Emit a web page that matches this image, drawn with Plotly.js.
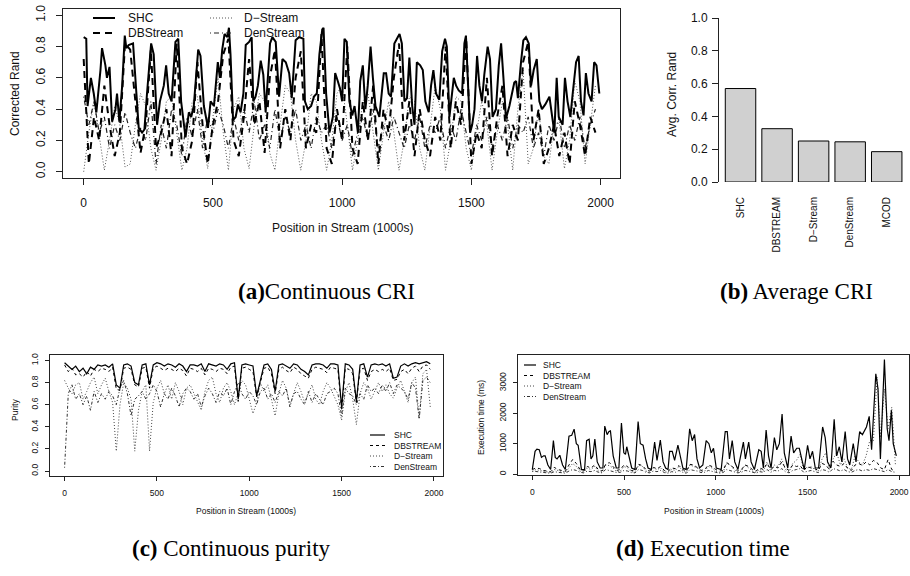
<!DOCTYPE html>
<html>
<head>
<meta charset="utf-8">
<script src="https://cdn.plot.ly/plotly-3.0.1.min.js"></script>
<style>
  html, body { margin: 0; padding: 0; background: #fff; }
  #chart { width: 910px; height: 576px; }
</style>
</head>
<body>
<div id="chart"></div>
<script>
// ---------- (a) Continuous corrected Rand index ----------
const criShcX = [0,10,15,28,39,49,65,71,84,90,100,110,123,129,138,149,159,165,174,191,204,213,226,235,245,261,271,284,295,310,319,329,340,355,366,377,394,407,416,426,443,452,465,481,491,504,519,527,536,545,556,562,568,578,588,597,607,618,627,640,650,656,665,674,685,695,704,721,730,743,756,769,782,795,805,820,833,850,856,867,880,891,902,912,923,928,938,951,964,973,983,992,1000,1009,1018,1028,1039,1048,1061,1070,1080,1090,1099,1110,1119,1129,1144,1161,1170,1180,1189,1202,1215,1222,1231,1241,1251,1260,1271,1280,1289,1302,1312,1322,1335,1344,1353,1363,1376,1387,1398,1405,1415,1425,1432,1441,1451,1464,1473,1479,1486,1495,1503,1512,1522,1531,1541,1550,1563,1572,1582,1595,1606,1615,1624,1634,1647,1657,1666,1673,1680,1692,1701,1711,1722,1731,1741,1753,1763,1773,1786,1802,1814,1821,1830,1838,1853,1862,1872,1883,1892,1905,1915,1924,1934,1943,1953,1965,1975,1984,1995];
const criShcY = [0.86,0.85,0.42,0.60,0.50,0.38,0.65,0.79,0.68,0.60,0.67,0.32,0.40,0.50,0.32,0.55,0.87,0.79,0.81,0.82,0.50,0.28,0.25,0.27,0.50,0.82,0.75,0.30,0.45,0.55,0.68,0.50,0.45,0.83,0.85,0.45,0.22,0.38,0.35,0.42,0.78,0.74,0.42,0.28,0.45,0.42,0.70,0.60,0.78,0.88,0.86,0.92,0.75,0.33,0.35,0.43,0.38,0.50,0.81,0.83,0.86,0.45,0.48,0.55,0.71,0.62,0.38,0.82,0.86,0.83,0.48,0.72,0.70,0.63,0.47,0.84,0.86,0.85,0.45,0.40,0.42,0.48,0.50,0.75,0.91,0.92,0.50,0.25,0.35,0.63,0.58,0.53,0.45,0.85,0.83,0.45,0.36,0.42,0.25,0.58,0.68,0.40,0.55,0.80,0.60,0.42,0.35,0.63,0.63,0.50,0.48,0.82,0.86,0.88,0.82,0.45,0.47,0.73,0.42,0.30,0.70,0.68,0.65,0.45,0.38,0.55,0.65,0.50,0.46,0.77,0.85,0.80,0.35,0.50,0.60,0.55,0.52,0.50,0.82,0.87,0.60,0.25,0.30,0.40,0.74,0.55,0.45,0.62,0.80,0.72,0.35,0.40,0.68,0.82,0.60,0.34,0.42,0.50,0.57,0.58,0.47,0.70,0.84,0.86,0.82,0.55,0.65,0.72,0.45,0.40,0.43,0.48,0.35,0.25,0.60,0.35,0.30,0.60,0.45,0.35,0.50,0.70,0.74,0.45,0.36,0.63,0.50,0.45,0.70,0.68,0.50];

// remaining series are sampled every 20 (thousand) stream positions, 0..1980
const criDbstream = [0.72,0.05,0.35,0.20,0.55,0.30,0.10,0.25,0.82,0.78,0.45,0.12,0.30,0.78,0.15,0.25,0.40,0.10,0.82,0.15,0.05,0.20,0.70,0.30,0.05,0.30,0.45,0.75,0.85,0.20,0.10,0.35,0.72,0.30,0.45,0.12,0.60,0.78,0.15,0.40,0.20,0.60,0.77,0.15,0.30,0.25,0.88,0.15,0.05,0.40,0.20,0.80,0.15,0.05,0.45,0.20,0.55,0.05,0.40,0.25,0.60,0.82,0.20,0.45,0.10,0.40,0.20,0.10,0.35,0.20,0.80,0.15,0.45,0.30,0.85,0.05,0.25,0.15,0.60,0.10,0.35,0.55,0.10,0.30,0.20,0.70,0.83,0.20,0.40,0.05,0.15,0.30,0.10,0.25,0.05,0.45,0.30,0.10,0.35,0.25];
const criDstream = [0.00,0.25,0.45,0.22,0.01,0.20,0.42,0.30,0.03,0.05,0.30,0.50,0.42,0.15,0.01,0.20,0.45,0.48,0.25,0.01,0.15,0.45,0.48,0.20,0.02,0.35,0.60,0.25,0.01,0.40,0.48,0.15,0.02,0.30,0.50,0.45,0.12,0.01,0.30,0.55,0.50,0.20,0.01,0.20,0.50,0.45,0.20,0.01,0.20,0.50,0.55,0.30,0.01,0.20,0.45,0.50,0.25,0.01,0.25,0.45,0.25,0.01,0.20,0.48,0.45,0.15,0.01,0.30,0.55,0.40,0.01,0.20,0.48,0.45,0.15,0.01,0.25,0.45,0.30,0.01,0.25,0.45,0.30,0.01,0.40,0.65,0.05,0.15,0.40,0.10,0.05,0.30,0.32,0.02,0.20,0.58,0.45,0.05,0.30,0.55];
const criDenstream = [0.48,0.30,0.45,0.25,0.35,0.15,0.30,0.20,0.38,0.25,0.15,0.28,0.20,0.45,0.05,0.30,0.15,0.40,0.30,0.10,0.35,0.22,0.40,0.15,0.35,0.25,0.40,0.30,0.15,0.35,0.20,0.40,0.25,0.45,0.20,0.30,0.15,0.40,0.20,0.35,0.25,0.40,0.20,0.30,0.15,0.35,0.25,0.30,0.15,0.35,0.20,0.30,0.10,0.25,0.35,0.20,0.40,0.15,0.30,0.20,0.35,0.25,0.15,0.30,0.20,0.35,0.15,0.30,0.25,0.35,0.15,0.30,0.20,0.40,0.25,0.10,0.30,0.20,0.35,0.15,0.30,0.20,0.35,0.15,0.30,0.25,0.35,0.15,0.25,0.10,0.30,0.20,0.35,0.15,0.30,0.20,0.35,0.15,0.30,0.40];

// ---------- (b) Average corrected Rand index ----------
const methodNames = ["SHC", "DBSTREAM", "D\u2212Stream", "DenStream", "MCOD"];
const avgCri = [0.57, 0.325, 0.25, 0.245, 0.185];

// ---------- (c) Continuous purity ----------
const purShc = [0.98,0.95,0.92,0.95,0.90,0.93,0.88,0.94,0.92,0.96,0.95,0.96,0.94,0.97,0.78,0.75,0.96,0.97,0.95,0.80,0.78,0.96,0.97,0.78,0.96,0.98,0.97,0.95,0.97,0.96,0.94,0.97,0.95,0.90,0.96,0.96,0.95,0.97,0.90,0.97,0.96,0.95,0.97,0.96,0.92,0.97,0.98,0.65,0.96,0.97,0.96,0.95,0.68,0.82,0.96,0.97,0.92,0.72,0.96,0.97,0.95,0.93,0.97,0.96,0.92,0.90,0.87,0.96,0.97,0.97,0.96,0.93,0.97,0.97,0.96,0.58,0.97,0.96,0.92,0.63,0.96,0.97,0.85,0.96,0.97,0.96,0.97,0.95,0.97,0.84,0.85,0.95,0.97,0.95,0.97,0.98,0.97,0.98,0.99,0.97];
const purDbstream = [0.96,0.90,0.93,0.87,0.88,0.85,0.90,0.86,0.92,0.90,0.93,0.92,0.90,0.94,0.74,0.73,0.93,0.94,0.92,0.78,0.76,0.93,0.94,0.75,0.93,0.95,0.93,0.91,0.93,0.92,0.90,0.93,0.91,0.86,0.93,0.92,0.90,0.93,0.87,0.93,0.92,0.90,0.93,0.92,0.88,0.94,0.95,0.63,0.93,0.94,0.92,0.90,0.67,0.80,0.93,0.94,0.88,0.70,0.92,0.94,0.91,0.89,0.94,0.92,0.88,0.86,0.84,0.92,0.94,0.93,0.92,0.89,0.94,0.93,0.92,0.55,0.93,0.92,0.88,0.62,0.92,0.93,0.82,0.90,0.92,0.90,0.92,0.90,0.93,0.82,0.83,0.90,0.92,0.88,0.93,0.95,0.90,0.95,0.96,0.92];
const purDstream = [0.82,0.75,0.70,0.78,0.80,0.65,0.72,0.80,0.85,0.70,0.78,0.84,0.72,0.62,0.18,0.60,0.80,0.75,0.65,0.18,0.55,0.72,0.78,0.18,0.62,0.75,0.82,0.70,0.78,0.65,0.80,0.72,0.60,0.75,0.78,0.70,0.62,0.55,0.72,0.82,0.85,0.70,0.62,0.75,0.80,0.72,0.60,0.70,0.82,0.78,0.65,0.52,0.62,0.80,0.72,0.78,0.65,0.50,0.70,0.82,0.75,0.60,0.70,0.80,0.72,0.62,0.70,0.78,0.65,0.60,0.72,0.80,0.75,0.68,0.60,0.46,0.72,0.80,0.65,0.42,0.70,0.80,0.75,0.65,0.72,0.80,0.72,0.78,0.70,0.66,0.75,0.82,0.72,0.62,0.80,0.85,0.48,0.88,0.92,0.58];
const purDenstream = [0.03,0.70,0.78,0.65,0.70,0.60,0.68,0.55,0.72,0.62,0.70,0.65,0.72,0.68,0.60,0.75,0.82,0.70,0.50,0.65,0.68,0.72,0.65,0.70,0.78,0.72,0.58,0.70,0.65,0.75,0.68,0.58,0.70,0.75,0.72,0.65,0.70,0.58,0.68,0.75,0.70,0.62,0.72,0.68,0.75,0.60,0.72,0.80,0.70,0.65,0.72,0.68,0.60,0.72,0.75,0.65,0.70,0.62,0.72,0.68,0.75,0.58,0.70,0.72,0.65,0.60,0.72,0.62,0.70,0.65,0.60,0.70,0.72,0.75,0.70,0.50,0.75,0.70,0.68,0.60,0.70,0.65,0.78,0.72,0.75,0.70,0.78,0.72,0.80,0.70,0.78,0.75,0.72,0.65,0.80,0.75,0.47,0.82,0.85,0.80];

// ---------- (d) Execution time (ms) ----------
const timeShcX = [0,15,25,38,50,62,70,85,100,115,125,135,150,165,180,200,215,228,240,250,268,285,296,310,320,330,341,354,370,385,395,408,418,426,441,458,472,486,499,508,515,528,542,560,577,589,604,618,631,649,667,680,698,713,727,740,749,763,776,794,807,821,839,858,872,885,898,912,930,948,963,976,988,1003,1030,1052,1063,1075,1090,1104,1121,1151,1162,1180,1193,1211,1235,1248,1260,1275,1288,1302,1320,1333,1347,1362,1374,1393,1411,1425,1442,1456,1469,1483,1501,1514,1528,1543,1561,1583,1597,1610,1628,1646,1659,1674,1688,1706,1719,1731,1750,1765,1785,1800,1822,1837,1850,1873,1885,1898,1920,1935,1945,1958,1968,1985];
const timeShcY = [150,750,820,800,550,600,600,300,150,1100,550,500,620,300,150,1250,1280,1480,1000,950,150,150,1100,1150,500,600,1150,400,200,200,1580,1300,1400,1420,600,200,200,1680,700,650,900,600,200,150,1730,1000,950,500,200,150,1050,450,1120,400,200,150,750,750,450,950,600,200,150,1490,1100,1300,500,200,300,1100,1000,700,850,200,150,1400,1400,500,1100,400,150,1050,500,1050,400,150,800,750,200,1450,600,200,1200,800,1000,1980,700,200,1250,700,850,850,500,150,950,500,750,200,200,1550,1200,400,200,1800,600,900,400,1400,500,300,1000,400,1400,1300,1550,1900,800,3300,2800,500,3770,1500,1100,2100,1000,600];
const timeDbstream = [150,200,180,120,100,80,220,150,120,90,300,480,350,150,100,250,200,300,150,100,320,380,250,120,150,300,250,120,100,320,280,150,100,220,180,250,120,90,200,180,280,150,100,320,300,220,120,150,300,250,150,100,120,380,300,200,100,150,300,250,150,100,200,150,350,150,250,200,400,200,120,300,250,280,120,250,200,180,120,350,300,150,420,300,250,350,180,120,300,350,280,400,300,450,380,200,150,480,150,100];
const timeDstream = [80,150,120,100,60,50,150,120,80,60,200,350,250,100,60,200,150,250,100,60,300,280,200,80,100,250,200,80,60,300,250,100,60,200,150,200,80,60,150,120,250,100,60,300,250,200,80,100,250,200,100,60,80,350,300,150,60,100,300,200,100,60,150,100,400,100,300,250,500,150,80,350,450,650,150,200,250,150,100,500,700,150,500,700,300,500,200,150,600,400,300,600,1100,1100,3200,1200,2800,1500,2200,300];
const timeDenstream = [100,80,60,50,40,30,80,60,40,30,100,150,120,60,40,100,80,120,60,40,150,120,100,50,60,120,100,50,40,150,120,60,40,100,80,120,50,30,80,60,120,60,30,150,120,100,50,60,120,100,60,30,50,150,120,80,40,60,120,100,60,30,80,60,150,60,120,100,180,80,40,120,150,180,60,100,120,80,50,150,120,60,180,150,100,150,80,60,120,150,100,150,120,180,150,100,80,150,80,60];

const seriesNames = ["SHC", "DBSTREAM", "D\u2212Stream", "DenStream"];
const criNames = ["SHC", "DBStream", "D\u2212Stream", "DenStream"];

// sampling grid for the regularly sampled series
const grid20 = criDbstream.map((_, i) => i * 20);

// ---------- page geometry helpers (pixels -> paper fractions) ----------
const W = 910, H = 576;
const fx = p => p / W;
const fy = p => 1 - p / H;

const FONT = "Liberation Sans, Arial, Helvetica, sans-serif";
const SERIF = "Liberation Serif, Times New Roman, serif";
const INK = "#111";

// line styles: thick set for (a), thin set for (c) and (d)
const thickStyles = [
  {color: "#000", width: 2, dash: "solid"},
  {color: "#000", width: 2, dash: "7px,5px"},
  {color: "#555", width: 1, dash: "1px,2px"},
  {color: "#222", width: 1.2, dash: "1px,3px,5px,3px"}
];
const thinStyles = [
  {color: "#000", width: 1.2, dash: "solid"},
  {color: "#000", width: 1, dash: "3px,3px"},
  {color: "#444", width: 1, dash: "1px,2px"},
  {color: "#333", width: 1, dash: "1px,2px,3px,2px"}
];

function line(x, y, style, xa, ya, name) {
  return {type: "scatter", mode: "lines", x: x, y: y, name: name,
          xaxis: xa, yaxis: ya, line: Object.assign({}, style), hoverinfo: "skip"};
}

const traces = [
  // (a)
  line(grid20, criDstream, thickStyles[2], "x", "y", criNames[2]),
  line(grid20, criDenstream, thickStyles[3], "x", "y", criNames[3]),
  line(grid20, criDbstream, thickStyles[1], "x", "y", criNames[1]),
  line(criShcX, criShcY, thickStyles[0], "x", "y", criNames[0]),
  // (b)
  {type: "bar", x: methodNames, y: avgCri, xaxis: "x2", yaxis: "y2",
   marker: {color: "#d0d0d0", line: {color: "#000", width: 1}}, hoverinfo: "skip"},
  // (c)
  line(grid20, purDstream, thinStyles[2], "x3", "y3", seriesNames[2]),
  line(grid20, purDenstream, thinStyles[3], "x3", "y3", seriesNames[3]),
  line(grid20, purDbstream, thinStyles[1], "x3", "y3", seriesNames[1]),
  line(grid20, purShc, thinStyles[0], "x3", "y3", seriesNames[0]),
  // (d)
  line(grid20, timeDstream, thinStyles[2], "x4", "y4", seriesNames[2]),
  line(grid20, timeDenstream, thinStyles[3], "x4", "y4", seriesNames[3]),
  line(grid20, timeDbstream, thinStyles[1], "x4", "y4", seriesNames[1]),
  line(timeShcX, timeShcY, thinStyles[0], "x4", "y4", seriesNames[0])
];

function boxAxis(domain, range, tickvals, opts) {
  return Object.assign({
    domain: domain, range: range, tickmode: "array", tickvals: tickvals,
    showline: true, mirror: true, linecolor: "#222", linewidth: 1,
    ticks: "outside", ticklen: 6, tickcolor: "#222", tickwidth: 1,
    showgrid: false, zeroline: false, fixedrange: true,
    tickfont: {family: FONT, size: 12, color: INK}
  }, opts || {});
}

const stream = [0, 500, 1000, 1500, 2000];
const unit = [0, 0.2, 0.4, 0.6, 0.8, 1.0];

const layout = {
  width: W, height: 576,
  margin: {l: 0, r: 0, t: 0, b: 0},
  paper_bgcolor: "#fff", plot_bgcolor: "#fff",
  showlegend: false,
  bargap: 1 / 6,
  font: {family: FONT, color: INK},
  // (a)
  xaxis: boxAxis([fx(63), fx(620)], [-80, 2075], stream,
                 {anchor: "y", ticklabelstandoff: 8}),
  yaxis: boxAxis([fy(178), fy(9)], [-0.04, 1.04], unit,
                 {anchor: "x", tickangle: -90, tickformat: ".1f", ticklabelstandoff: 6}),
  // (b)
  xaxis2: {domain: [fx(718), fx(905)], range: [-0.616, 4.5], anchor: "y2",
           showline: false, ticks: "", showgrid: false, zeroline: false,
           tickangle: -90, ticklabelstandoff: 12, fixedrange: true,
           tickfont: {family: FONT, size: 10, color: INK}},
  yaxis2: {domain: [fy(182), fy(18)], range: [0, 1], anchor: "free", position: fx(718),
           tickmode: "array", tickvals: unit, tickformat: ".1f",
           showline: true, linecolor: "#222", linewidth: 1,
           ticks: "outside", ticklen: 6, tickcolor: "#222",
           showgrid: false, zeroline: false, fixedrange: true, ticklabelstandoff: 2,
           tickfont: {family: FONT, size: 12, color: INK}},
  // (c)
  xaxis3: boxAxis([fx(50), fx(443)], [-79, 2049], stream,
                  {anchor: "y3", ticklen: 4, ticklabelstandoff: 5,
                   tickfont: {family: FONT, size: 8.5, color: INK}}),
  yaxis3: boxAxis([fy(476), fy(355)], [-0.045, 1.05], unit,
                  {anchor: "x3", ticklen: 4, tickangle: -90, tickformat: ".1f", ticklabelstandoff: 4,
                   tickfont: {family: FONT, size: 8.5, color: INK}}),
  // (d)
  xaxis4: boxAxis([fx(518), fx(909)], [-78, 2054], stream,
                  {anchor: "y4", ticklen: 4, ticklabelstandoff: 5,
                   tickfont: {family: FONT, size: 8.5, color: INK}}),
  yaxis4: boxAxis([fy(475), fy(355)], [-30, 3920], [0, 1000, 2000, 3000],
                  {anchor: "x4", ticklen: 4, tickangle: -90, ticklabelstandoff: 4,
                   tickfont: {family: FONT, size: 8.5, color: INK}}),
  shapes: [],
  annotations: []
};

function text(str, x, y, size, extra) {
  layout.annotations.push(Object.assign({
    text: str, xref: "paper", yref: "paper", x: fx(x), y: fy(y),
    xanchor: "center", yanchor: "middle", showarrow: false,
    font: {family: FONT, size: size, color: INK}
  }, extra || {}));
}

// axis titles
text("Corrected Rand", 15, 94, 12, {textangle: -90});
text("Position in Stream (1000s)", 342, 228, 12);
text("Avg. Corr. Rand", 672, 95, 12, {textangle: -90});
text("Purity", 15, 410, 8.5, {textangle: -90});
text("Position in Stream (1000s)", 246, 511, 8.5);
text("Execution time (ms)", 481, 418, 8.5, {textangle: -90});
text("Position in Stream (1000s)", 714, 511, 8.5);

// sub-figure captions
const capFont = {family: SERIF, size: 23, color: "#000"};
text("<b>(a)</b>Continuous CRI", 326, 291, 23, {font: capFont});
text("<b>(b)</b> Average CRI", 796, 291, 23, {font: capFont});
text("<b>(c)</b> Continuous purity", 231, 548, 23, {font: capFont});
text("<b>(d)</b> Execution time", 703, 548, 23, {font: capFont});

// legend keys drawn as line samples plus labels
function legendEntry(name, style, x0, x1, tx, y, size) {
  layout.shapes.push({type: "line", xref: "paper", yref: "paper",
    x0: fx(x0), x1: fx(x1), y0: fy(y), y1: fy(y),
    line: {color: style.color, width: style.width, dash: style.dash}});
  text(name, tx, y, size, {xanchor: "left"});
}
// (a): two columns
legendEntry(criNames[0], thickStyles[0], 93, 115, 126, 18, 12);
legendEntry(criNames[1], thickStyles[1], 93, 115, 126, 33, 12);
legendEntry(criNames[2], thickStyles[2], 210, 233, 242, 18, 12);
legendEntry(criNames[3], thickStyles[3], 210, 233, 242, 33, 12);
// (c): bottom right
[435, 445.5, 456, 466.5].forEach((y, i) =>
  legendEntry(seriesNames[i], thinStyles[i], 370, 385, 392, y, 8.5));
// (d): top left
[365, 375.5, 386, 396.5].forEach((y, i) =>
  legendEntry(seriesNames[i], thinStyles[i], 524, 536, 541, y, 8.5));

Plotly.newPlot("chart", traces, layout, {staticPlot: true, displayModeBar: false});
</script>
</body>
</html>
